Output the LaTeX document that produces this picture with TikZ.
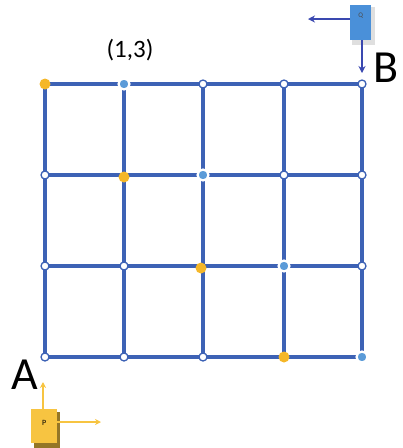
\documentclass[tikz,border=0pt]{standalone}
\usepackage{fontspec}
\setmainfont{Carlito}
\usetikzlibrary{arrows.meta}
\definecolor{gridblue}{HTML}{3D62B5}
\definecolor{lightdot}{HTML}{5B9BD8}
\definecolor{gold}{HTML}{F5B728}
\definecolor{qblue}{HTML}{4A90D9}
\definecolor{arrblue}{HTML}{3A48B0}
\definecolor{pgold}{HTML}{F7C441}
\tikzset{
  gline/.style={draw=gridblue, line width=3.6pt},
  vtx/.style={circle, draw=gridblue, fill=white, line width=1.3pt, inner sep=0pt, minimum size=8pt},
  hvtx/.style={circle, draw=white, fill=lightdot, line width=2.2pt, inner sep=0pt, minimum size=11pt},
  ovtx/.style={circle, fill=gold, inner sep=0pt, minimum size=11pt},
  bigletter/.style={font=\fontsize{46}{46}\selectfont},
  qarrow/.style={draw=arrblue, line width=1.8pt, -{Stealth[length=7pt,width=7pt]}},
  parrow/.style={draw=pgold, line width=1.3pt, -{Stealth[length=6pt,width=6pt]}}
}
\begin{document}
\begin{tikzpicture}[x=1pt,y=-1pt]
\useasboundingbox (0,0) rectangle (403,448);
% grid coordinates
\foreach \i/\x in {0/45,1/124,2/203,3/284,4/362}{
  \foreach \j/\y in {0/84,1/175,2/266,3/357}{
    \coordinate (c\i\j) at (\x,\y);
  }
}
% grid lines
\foreach \j in {0,1,2,3}{ \draw[gline] (c0\j) -- (c4\j); }
\foreach \i in {0,1,2,3,4}{ \draw[gline] (c\i0) -- (c\i3); }
% plain vertices
\foreach \n in {20,30,40,01,21,31,41,02,12,42,03,13,23}{
  \node[vtx] (v\n) at (c\n) {};
}
% highlighted vertices
\foreach \n in {10,21,32,43}{
  \node[hvtx] (h\n) at (c\n) {};
}
% path (gold) vertices
\node[ovtx] (o00) at (c00) {};
\node[ovtx] (o11) at ([yshift=-2pt]c11) {};
\node[ovtx] (o22) at ([xshift=-2pt,yshift=-2pt]c22) {};
\node[ovtx] (o33) at (c33) {};
% label
\node[font=\fontsize{25}{25}\selectfont] (lbl) at (130,50) {(1,3)};
% letters
\node[bigletter] (B) at (386,68) {B};
\node[bigletter] (A) at (25,375) {A};
% Q box
\fill[gray!25] (352,7) rectangle (375,45);
\node[fill=qblue, minimum width=21pt, minimum height=35pt, inner sep=0pt, font=\fontsize{7}{7}\selectfont, text=black!70, anchor=north west] (Q) at (350,5) {\raisebox{14pt}{Q}};
\coordinate (qleft) at (308,19);
\coordinate (qdown) at (362,73);
\draw[qarrow] (Q.west |- qleft) -- (qleft);
\draw[qarrow] (Q.south -| qdown) -- (qdown);
% P box
\fill[pgold!60!black] (34,412) rectangle (60,448);
\node[fill=pgold, minimum width=26pt, minimum height=34pt, inner sep=0pt, font=\fontsize{8}{8}\selectfont, anchor=north west] (P) at (31,409) {\raisebox{6pt}{P}};
\coordinate (pup) at (43,382);
\coordinate (pright) at (101,422);
\draw[parrow] (P.north -| pup) -- (pup);
\draw[parrow] (P.east |- pright) -- (pright);
\end{tikzpicture}
\end{document}
